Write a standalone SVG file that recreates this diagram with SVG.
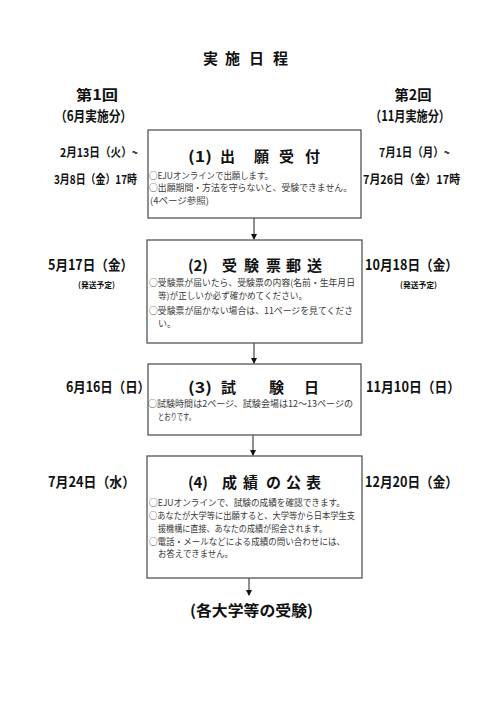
<svg xmlns="http://www.w3.org/2000/svg" width="500" height="707" viewBox="0 0 500 707">
<style>
text{font-family:"Noto Sans CJK JP","Noto Sans",sans-serif;fill:#111}
.t{font-size:15px;font-weight:bold}
.side{font-size:14px;font-weight:bold}
.d{font-size:12px;font-weight:bold}
.s{font-size:8px;font-weight:bold}
.b{font-size:9px;fill:#3a3a3a}
.box{fill:#fff;stroke:#555;stroke-width:1.3}
.con{stroke:#333;stroke-width:1.1;fill:none}
</style>
<defs>
<marker id="ah" markerWidth="6" markerHeight="6" refX="5" refY="3" orient="auto" markerUnits="userSpaceOnUse">
<path d="M0,0 L6,3 L0,6 Z" fill="#111"/>
</marker>
</defs>
<rect width="500" height="707" fill="#fff"/>
<g id="title">
<text class="t" x="203" y="64">実</text>
<text class="t" x="225" y="64">施</text>
<text class="t" x="249" y="64">日</text>
<text class="t" x="273" y="64">程</text>
</g>
<g id="left-header">
<text class="side" x="97" y="100" text-anchor="middle" textLength="42" lengthAdjust="spacingAndGlyphs">第1回</text>
<text class="side" x="55" y="121" textLength="77" lengthAdjust="spacingAndGlyphs">（6月実施分）</text>
<text class="d" x="60" y="157" textLength="78" lengthAdjust="spacingAndGlyphs">2月13日（火）~</text>
<text class="d" x="54" y="184" textLength="83" lengthAdjust="spacingAndGlyphs">3月8日（金）17時</text>
</g>
<g id="right-header">
<text class="side" x="413" y="100" text-anchor="middle" textLength="37" lengthAdjust="spacingAndGlyphs">第2回</text>
<text class="side" x="370" y="121" textLength="80" lengthAdjust="spacingAndGlyphs">（11月実施分）</text>
<text class="d" x="379" y="157" textLength="71" lengthAdjust="spacingAndGlyphs">7月1日（月）~</text>
<text class="d" x="363" y="184" textLength="97" lengthAdjust="spacingAndGlyphs">7月26日（金）17時</text>
</g>
<g id="connectors">
<line class="con" x1="254" y1="218" x2="254" y2="239" marker-end="url(#ah)"/>
<line class="con" x1="254" y1="343" x2="254" y2="363" marker-end="url(#ah)"/>
<line class="con" x1="253" y1="435" x2="253" y2="455" marker-end="url(#ah)"/>
<line class="con" x1="249" y1="578" x2="249" y2="595" marker-end="url(#ah)"/>
</g>
<g id="step1">
<rect class="box" x="148" y="130" width="213" height="88"/>
<text class="t" x="188" y="162" textLength="24" lengthAdjust="spacingAndGlyphs">(1)</text>
<text class="t" x="220" y="162">出</text>
<text class="t" x="254" y="162">願</text>
<text class="t" x="279" y="162">受</text>
<text class="t" x="305" y="162">付</text>
<text class="b" x="149" y="179" textLength="124" lengthAdjust="spacingAndGlyphs">○EJUオンラインで出願します。</text>
<text class="b" x="149" y="191" textLength="203" lengthAdjust="spacingAndGlyphs">○出願期間・方法を守らないと、受験できません。</text>
<text class="b" x="150" y="204" textLength="59" lengthAdjust="spacingAndGlyphs">(4ページ参照)</text>
</g>
<g id="step2">
<rect class="box" x="147" y="240" width="215" height="103"/>
<text class="side" x="48" y="270" textLength="85" lengthAdjust="spacingAndGlyphs">5月17日（金）</text>
<text class="s" x="78" y="288" textLength="37" lengthAdjust="spacingAndGlyphs">(発送予定)</text>
<text class="side" x="365" y="270" textLength="93" lengthAdjust="spacingAndGlyphs">10月18日（金）</text>
<text class="s" x="400" y="288" textLength="37" lengthAdjust="spacingAndGlyphs">(発送予定)</text>
<text class="t" x="188" y="271" textLength="20" lengthAdjust="spacingAndGlyphs">(2)</text>
<text class="t" x="222" y="271">受</text>
<text class="t" x="244" y="271">験</text>
<text class="t" x="266" y="271">票</text>
<text class="t" x="286" y="271">郵</text>
<text class="t" x="307" y="271">送</text>
<text class="b" x="149" y="286" textLength="206" lengthAdjust="spacingAndGlyphs">○受験票が届いたら、受験票の内容(名前・生年月日</text>
<text class="b" x="158" y="299" textLength="149" lengthAdjust="spacingAndGlyphs">等)が正しいか必ず確かめてください。</text>
<text class="b" x="149" y="314" textLength="204" lengthAdjust="spacingAndGlyphs">○受験票が届かない場合は、11ページを見てくださ</text>
<text class="b" x="158" y="327">い。</text>
</g>
<g id="step3">
<rect class="box" x="148" y="364" width="213" height="71"/>
<text class="side" x="66" y="392" textLength="84" lengthAdjust="spacingAndGlyphs">6月16日（日）</text>
<text class="side" x="366" y="392" textLength="94" lengthAdjust="spacingAndGlyphs">11月10日（日）</text>
<text class="t" x="188" y="393" textLength="24" lengthAdjust="spacingAndGlyphs">(3)</text>
<text class="t" x="221" y="393">試</text>
<text class="t" x="269" y="393">験</text>
<text class="t" x="304" y="393">日</text>
<text class="b" x="148" y="407" textLength="205" lengthAdjust="spacingAndGlyphs">○試験時間は2ページ、試験会場は12～13ページの</text>
<text class="b" x="158" y="420" textLength="37" lengthAdjust="spacingAndGlyphs">とおりです。</text>
</g>
<g id="step4">
<rect class="box" x="147" y="456" width="215" height="122"/>
<text class="side" x="48" y="487" textLength="87" lengthAdjust="spacingAndGlyphs">7月24日（水）</text>
<text class="side" x="365" y="487" textLength="93" lengthAdjust="spacingAndGlyphs">12月20日（金）</text>
<text class="t" x="188" y="488" textLength="20" lengthAdjust="spacingAndGlyphs">(4)</text>
<text class="t" x="222" y="488">成</text>
<text class="t" x="243" y="488">績</text>
<text class="t" x="266" y="488">の</text>
<text class="t" x="286" y="488">公</text>
<text class="t" x="306" y="488">表</text>
<text class="b" x="149" y="506" textLength="196" lengthAdjust="spacingAndGlyphs">○EJUオンラインで、試験の成績を確認できます。</text>
<text class="b" x="149" y="519" textLength="206" lengthAdjust="spacingAndGlyphs">○あなたが大学等に出願すると、大学等から日本学生支</text>
<text class="b" x="158" y="532" textLength="169" lengthAdjust="spacingAndGlyphs">援機構に直接、あなたの成績が照会されます。</text>
<text class="b" x="149" y="545" textLength="196" lengthAdjust="spacingAndGlyphs">○電話・メールなどによる成績の問い合わせには、</text>
<text class="b" x="158" y="557" textLength="75" lengthAdjust="spacingAndGlyphs">お答えできません。</text>
</g>
<g id="result">
<text class="t" x="190" y="616" textLength="123" lengthAdjust="spacingAndGlyphs">(各大学等の受験)</text>
</g>
</svg>
